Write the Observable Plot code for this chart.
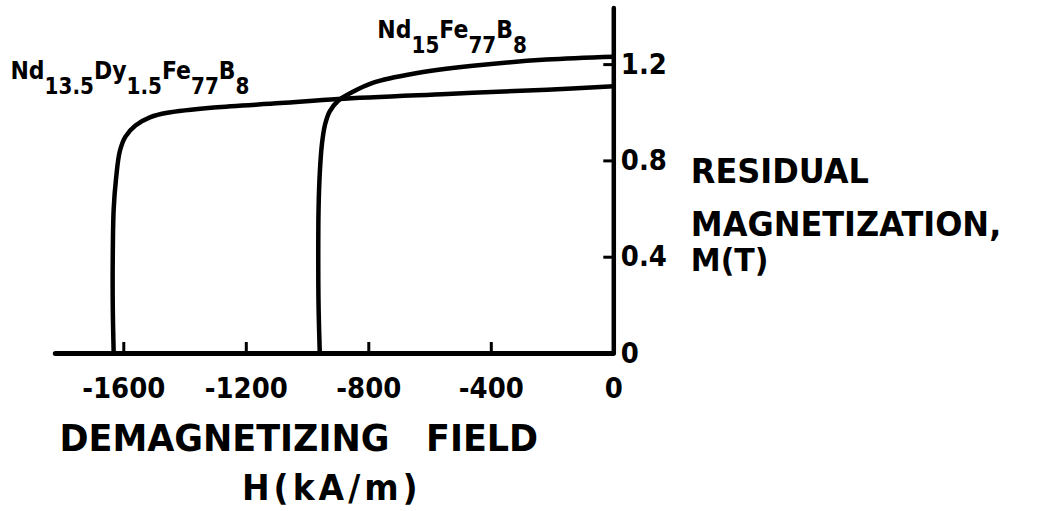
<!DOCTYPE html>
<html><head><meta charset="utf-8">
<script src="https://cdn.jsdelivr.net/npm/d3@7"></script>
<script src="https://cdn.jsdelivr.net/npm/@observablehq/plot@0.6"></script>
<style>
html,body{margin:0;padding:0;background:#fff;}
</style>
</head><body><div id="chart"></div>
<script>
// Demagnetization curves
const seriesNames = ["Nd_{15}Fe_{77}B_{8}", "Nd_{13.5}Dy_{1.5}Fe_{77}B_{8}"];
const ndFeB_H = [-960, -964, -965, -964, -960, -953, -943, -928, -900, -855, -785, -655, -460, -220, 0];
const ndFeB_M = [0, 0.2, 0.4, 0.6, 0.75, 0.87, 0.95, 1.005, 1.05, 1.085, 1.125, 1.162, 1.195, 1.221, 1.233];
const ndDyFeB_H = [-1633, -1636, -1636, -1633, -1625, -1613, -1595, -1562, -1513, -1458, -1306, -1088, -900, -544, -217, 0];
const ndDyFeB_M = [0, 0.2, 0.4, 0.6, 0.73, 0.84, 0.9, 0.947, 0.982, 1.0, 1.022, 1.04, 1.057, 1.078, 1.096, 1.11];
const xTicks = [-1600, -1200, -800, -400, 0];
const xTickLabels = ["-1600", "-1200", "-800", "-400", "0"];
const yTicks = [0, 0.4, 0.8, 1.2];
const yTickLabels = ["0", "0.4", "0.8", "1.2"];
const xTitle = ["DEMAGNETIZING\u00a0\u00a0 FIELD", "H(kA/m)"];
const yTitle = ["RESIDUAL", "MAGNETIZATION,", "M(T)"];

const curves = [
  ...ndFeB_H.map((h, i) => ({series: seriesNames[0], H: h, M: ndFeB_M[i]})),
  ...ndDyFeB_H.map((h, i) => ({series: seriesNames[1], H: h, M: ndDyFeB_M[i]}))
];

const font = "DejaVu Sans";
const chart = Plot.plot({
  width: 1038,
  height: 511,
  marginLeft: 55.3,
  marginRight: 424.7,
  marginTop: 8,
  marginBottom: 158,
  x: {domain: [-1822, 0], axis: null},
  y: {domain: [0, 1.433], axis: null},
  style: {fontFamily: font, background: "white", color: "black", overflow: "visible"},
  marks: [
    Plot.ruleY([0], {stroke: "black", strokeWidth: 5, strokeLinecap: "round"}),
    Plot.ruleX([0], {stroke: "black", strokeWidth: 4.5, strokeLinecap: "round"}),
    Plot.tickX(xTicks.filter(d => d < 0), {x: d => d, insetTop: 334, stroke: "black", strokeWidth: 3}),
    Plot.tickY(yTicks.filter(d => d > 0), {y: d => d, insetLeft: 548, stroke: "black", strokeWidth: 3}),
    Plot.line(curves, {x: "H", y: "M", z: "series", curve: "catmull-rom", stroke: "black", strokeWidth: 4.5, strokeLinejoin: "round", strokeLinecap: "round"}),
    Plot.text(xTicks, {x: d => d, text: (d, i) => xTickLabels[i], frameAnchor: "bottom", lineAnchor: "top", dy: 24, fontSize: 26, fontWeight: "bold", fill: "black"}),
    Plot.text(yTicks, {y: d => d, text: (d, i) => yTickLabels[i], frameAnchor: "right", textAnchor: "start", lineAnchor: "middle", dx: 7, fontSize: 26, fontWeight: "bold", fill: "black"}),
    // series labels (baseline anchored at data coordinates)
    Plot.text([seriesNames[1]], {x: -1970, y: 1.142, text: d => d, textAnchor: "start", lineAnchor: "bottom", fontSize: 22, fontWeight: "bold", fill: "black"}),
    Plot.text([seriesNames[0]], {x: -772, y: 1.312, text: d => d, textAnchor: "start", lineAnchor: "bottom", fontSize: 22, fontWeight: "bold", fill: "black"}),
    // axis titles
    Plot.text([yTitle[0]], {frameAnchor: "top-right", text: d => d, textAnchor: "start", lineAnchor: "bottom", dx: 77, dy: 174, fontSize: 32, fontWeight: "bold", fill: "black"}),
    Plot.text([yTitle[1]], {frameAnchor: "top-right", text: d => d, textAnchor: "start", lineAnchor: "bottom", dx: 77, dy: 227, fontSize: 32, fontWeight: "bold", fill: "black"}),
    Plot.text([yTitle[2]], {frameAnchor: "top-right", text: d => d, textAnchor: "start", lineAnchor: "bottom", dx: 77, dy: 262, fontSize: 30, fontWeight: "bold", fill: "black"}),
    Plot.text([xTitle[0]], {frameAnchor: "bottom", text: d => d, textAnchor: "middle", lineAnchor: "bottom", dx: -36, dy: 97, fontSize: 35, fontWeight: "bold", fill: "black"}),
    Plot.text([xTitle[1]], {frameAnchor: "bottom", text: d => d, textAnchor: "middle", lineAnchor: "bottom", dx: -3, dy: 146, fontSize: 33, fontWeight: "bold", fill: "black"})
  ]
});

// turn _{...} markup into subscript tspans
function subscriptify(el, mainSize, subSize, shift) {
  const s = el.textContent;
  if (!s.includes("_{")) return false;
  while (el.firstChild) el.removeChild(el.firstChild);
  let isSub = false;
  const re = /_\{([^}]*)\}|([^_]+)/g;
  let m;
  while ((m = re.exec(s))) {
    const t = document.createElementNS("http://www.w3.org/2000/svg", "tspan");
    const sub = m[1] !== undefined;
    t.textContent = sub ? m[1] : m[2];
    t.setAttribute("font-size", sub ? subSize : mainSize);
    if (sub !== isSub) t.setAttribute("dy", sub ? shift : -shift);
    isSub = sub;
    el.appendChild(t);
  }
  return true;
}
// hand-lettered glyphs in the reference are taller and narrower: stretch vertically
function stretch(el, k) {
  const tr = el.getAttribute("transform");
  if (tr) el.setAttribute("transform", tr + ` scale(1,${k})`);
}
chart.querySelectorAll("text").forEach(el => {
  const s = el.textContent;
  if (subscriptify(el, 22, 20, 13)) stretch(el, 1.15);
  else if (xTickLabels.includes(s) || yTickLabels.includes(s)) stretch(el, 1.1);
  else stretch(el, 1.05);
  if (s.includes("DEMAG")) el.setAttribute("xml:space", "preserve");
  if (s === xTitle[1]) el.setAttribute("letter-spacing", "4");
});
document.getElementById("chart").appendChild(chart);
</script>
</body></html>
